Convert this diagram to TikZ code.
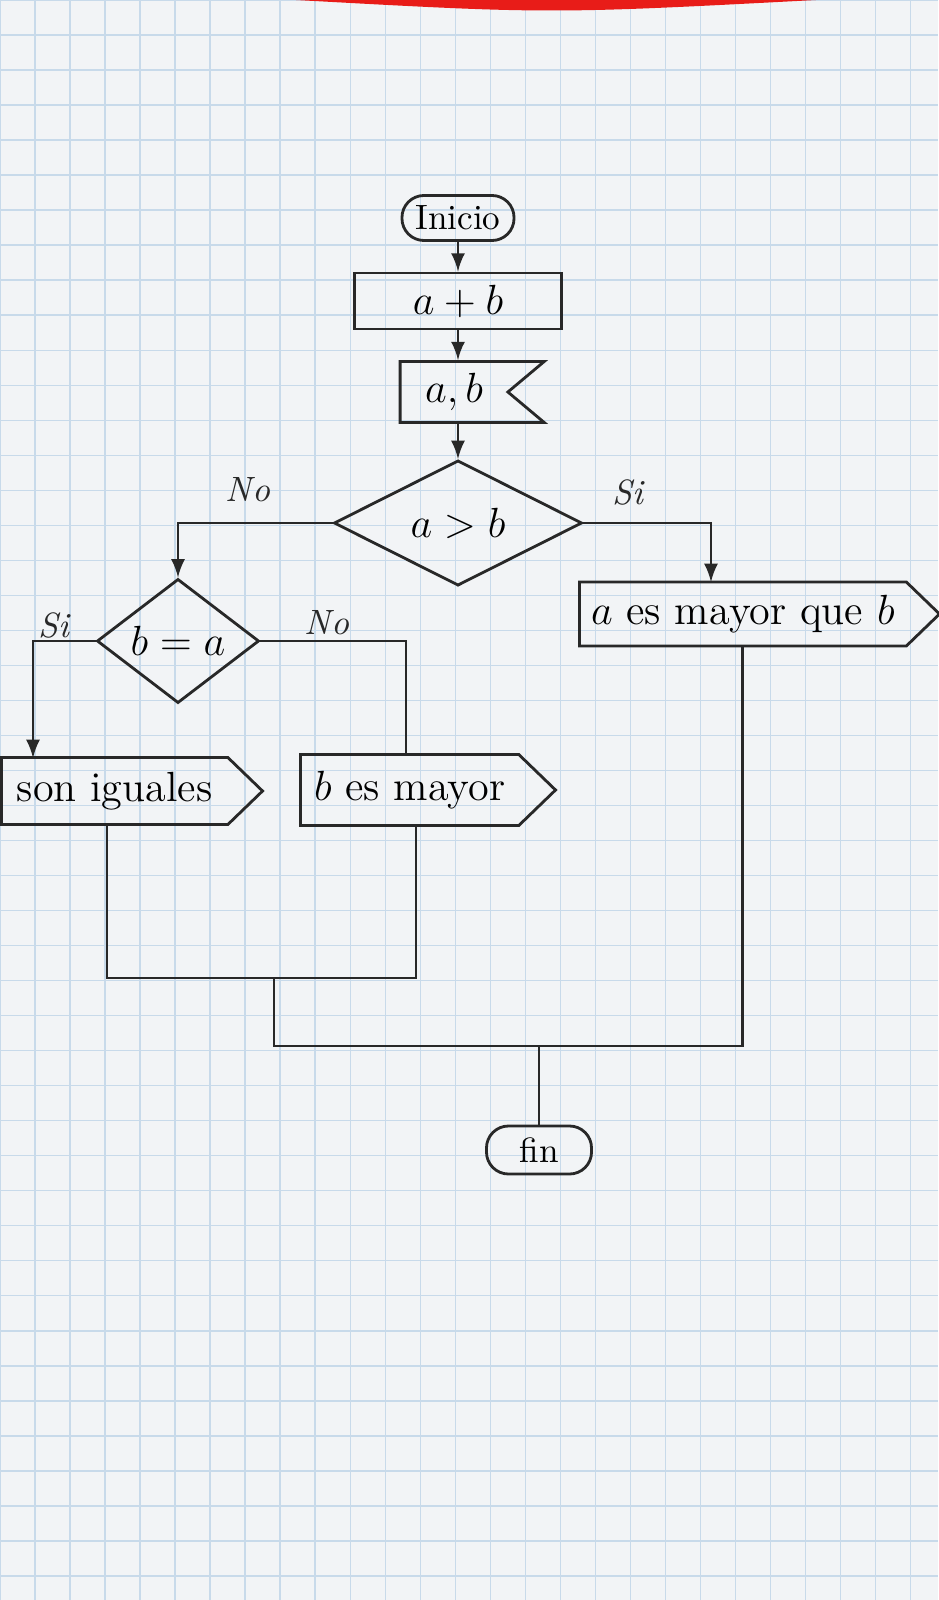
\documentclass[tikz,border=0pt]{standalone}
\usepackage{tikz}
\usetikzlibrary{shapes.geometric}
\usetikzlibrary{shapes.symbols}
\usetikzlibrary{arrows}
\usepackage{xcolor}

\definecolor{papel}{RGB}{242,244,246}
\definecolor{cuadro}{RGB}{200,218,234}
\definecolor{tinta}{RGB}{40,40,40}
\definecolor{rojo}{RGB}{232,28,24}

\tikzset{
	terminal/.style={draw=tinta, thick, rectangle, rounded corners=0.22cm, minimum width=1.12cm, minimum height=0.45cm, inner sep=2pt},
	proceso/.style={draw=tinta, thick, rectangle, minimum width=2.07cm, minimum height=0.44cm, font=\large},
	entrada/.style={draw=tinta, thick, signal, signal from=east, signal to=nowhere, signal pointer angle=80, minimum width=1.44cm, minimum height=0.55cm, font=\large},
	decision/.style={draw=tinta, thick, diamond, inner sep=0pt, font=\large},
	pantalla/.style={draw=tinta, thick, signal, signal to=east, signal from=nowhere, signal pointer angle=88, anchor=west, font=\large},
	flecha/.style={draw=tinta, thick, -latex},
	linea/.style={draw=tinta, thick},
	etiqueta/.style={text=tinta, font=\itshape}
}

\begin{document}
\begin{tikzpicture}[x=0.01cm, y=-0.01cm]
	\useasboundingbox (0,0) rectangle (938,1600);
	
	% hoja cuadriculada
	\fill[papel] (0,0) rectangle (938,1600);
	\draw[cuadro, thin] (0,0) grid[step=0.35cm] (938,1600);
	\fill[rojo] (296,0) .. controls (550,14) .. (816,0) -- cycle;
	
	\node[terminal] (inicio) at (458, 218) {Inicio};
	\node[proceso] (decl) at (458, 301) {$a+b$};
	\node[entrada] (leer) at (454, 392) {$a,b$\hspace{0.45cm}};
	\node[decision, minimum width=2.48cm, minimum height=1.18cm] (dec1) at (458, 523) {$a>b$};
	
	\draw[flecha] (inicio) -- (decl);
	\draw[flecha] (decl.south) -- (decl.south |- leer.north);
	\draw[flecha] (decl.south |- leer.south) -- (dec1.north);
	
	\node[etiqueta] (no1) at (248, 490) {No};
	\node[etiqueta] (si1) at (628, 492) {Si};
	
	% rama si
	\node[pantalla, minimum width=3.25cm, minimum height=0.64cm] (mayorA) at (578, 614) {$a$ es mayor que $b$};
	\coordinate (s1) at (711, 582);
	\draw[flecha] (dec1.east) -| (s1);
	
	% rama no
	\node[decision, minimum width=1.62cm, minimum height=1.11cm] (dec2) at (178, 641) {$b=a$};
	\draw[flecha] (dec1.west) -| (dec2.north);
	
	\node[etiqueta] (si2) at (54, 625) {Si};
	\node[etiqueta] (no2) at (327, 623) {No};
	
	\node[pantalla, minimum width=2.61cm, minimum height=0.67cm] (iguales) at (0, 791) {son iguales};
	\node[pantalla, minimum width=2.55cm, minimum height=0.71cm] (mayorB) at (299, 790) {$b$ es mayor};
	
	\coordinate (s2) at (33, 758);
	\coordinate (n2) at (406, 754);
	\draw[flecha] (dec2.west) -| (s2);
	\draw[linea] (dec2.east) -| (n2);
	
	% uniones
	\coordinate (u1) at (107, 978);
	\coordinate (u2) at (416, 978);
	\coordinate (m1) at (274, 978);
	\coordinate (m2) at (274, 1046);
	\draw[linea] (iguales.south -| u1) -- (u1) -- (u2) -- (mayorB.south -| u2);
	\draw[linea] (m1) -- (m2) -- (mayorA.south |- m2) -- (mayorA.south);
	
	\node[terminal, minimum width=1.05cm, minimum height=0.48cm] (fin) at (539, 1150) {fin};
	\draw[linea] (fin.north |- m2) -- (fin.north);
	
\end{tikzpicture}
\end{document}
